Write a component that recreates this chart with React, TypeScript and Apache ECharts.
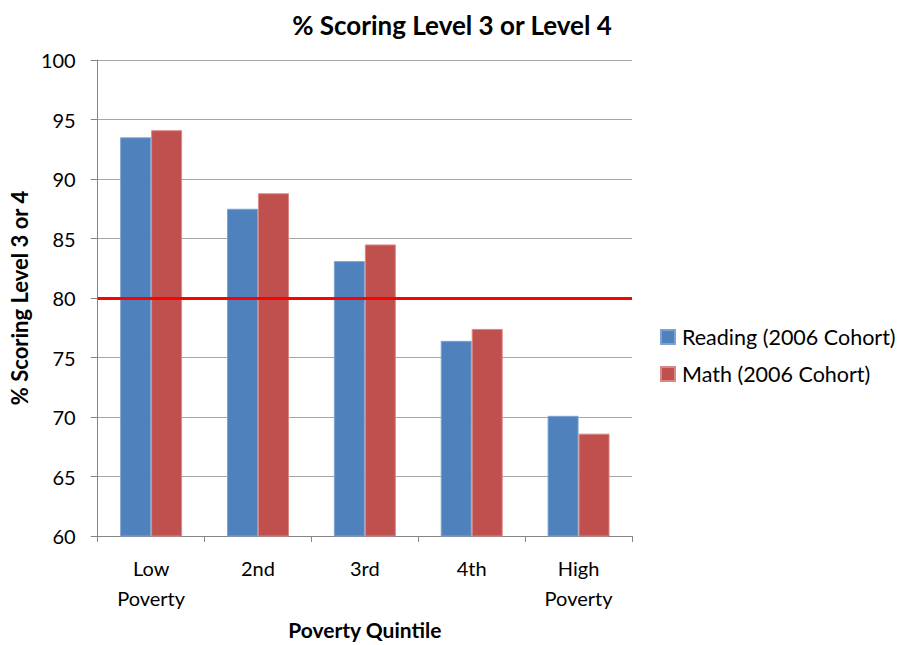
import React, { useEffect, useRef } from "react";
import * as echarts from "echarts";

const categories = ["Low\nPoverty", "2nd", "3rd", "4th", "High\nPoverty"];
const reading = [93.5, 87.5, 83.1, 76.4, 70.1];
const math = [94.1, 88.8, 84.5, 77.4, 68.6];
const targetLine = 80;
const yTicks = { min: 60, max: 100, interval: 5 };

const FONT = "Lato, 'Open Sans', sans-serif";

export default function App() {
  const ref = useRef<HTMLDivElement>(null);
  useEffect(() => {
    if (!ref.current) return;
    const chart = echarts.init(ref.current, undefined, { renderer: "svg" });
    chart.setOption({
      animation: false,
      backgroundColor: "#ffffff",
      textStyle: { fontFamily: FONT },
      title: {
        text: "% Scoring Level 3 or Level 4",
        left: 447,
        textAlign: "center",
        top: 7,
        textStyle: { fontFamily: FONT, fontSize: 26, fontWeight: "bold", color: "#000" },
      },
      legend: {
        orient: "vertical",
        left: 655,
        top: 321,
        itemWidth: 14,
        itemHeight: 14,
        itemGap: 15,
        icon: "rect",
        textStyle: { fontFamily: FONT, fontSize: 21.5, color: "#000", padding: [0, 0, 0, 2] },
        data: ["Reading (2006 Cohort)", "Math (2006 Cohort)"],
      },
      grid: { left: 97, right: 265, top: 60, bottom: 105, containLabel: false },
      xAxis: {
        type: "category",
        data: categories,
        name: "Poverty Quintile",
        nameLocation: "middle",
        nameGap: 83,
        nameTextStyle: { fontFamily: FONT, fontSize: 21, fontWeight: "bold", color: "#000" },
        axisLine: { lineStyle: { color: "#868686" } },
        axisTick: { show: true, alignWithLabel: false, length: 6, lineStyle: { color: "#868686" } },
        axisLabel: { fontFamily: FONT, fontSize: 20, color: "#000", lineHeight: 30, margin: 17 },
      },
      yAxis: {
        type: "value",
        min: yTicks.min,
        max: yTicks.max,
        interval: yTicks.interval,
        name: "% Scoring Level 3 or 4",
        nameLocation: "middle",
        nameGap: 65,
        nameTextStyle: { fontFamily: FONT, fontSize: 22, fontWeight: "bold", color: "#000" },
        axisLine: { show: true, lineStyle: { color: "#868686" } },
        axisTick: { show: true, length: 7, lineStyle: { color: "#868686" } },
        axisLabel: { fontFamily: FONT, fontSize: 20, color: "#000", margin: 22 },
        splitLine: { lineStyle: { color: "#a6a6a6" } },
      },
      series: [
        {
          name: "Reading (2006 Cohort)",
          type: "bar",
          data: reading,
          barGap: "0%",
          barCategoryGap: "42%",
          itemStyle: { color: "#4F81BD", borderColor: "#7fa3d1", borderWidth: 1 },
          markLine: {
            silent: true,
            symbol: "none",
            label: { show: false },
            lineStyle: { color: "#ff0000", width: 3, type: "solid" },
            data: [{ yAxis: targetLine }],
          },
        },
        {
          name: "Math (2006 Cohort)",
          type: "bar",
          data: math,
          itemStyle: { color: "#C0504D", borderColor: "#d98886", borderWidth: 1 },
        },
      ],
    });
    return () => chart.dispose();
  }, []);
  return (
    <div
      ref={ref}
      style={{ position: "fixed", left: 0, top: 0, width: 897, height: 645, background: "#fff" }}
    />
  );
}
